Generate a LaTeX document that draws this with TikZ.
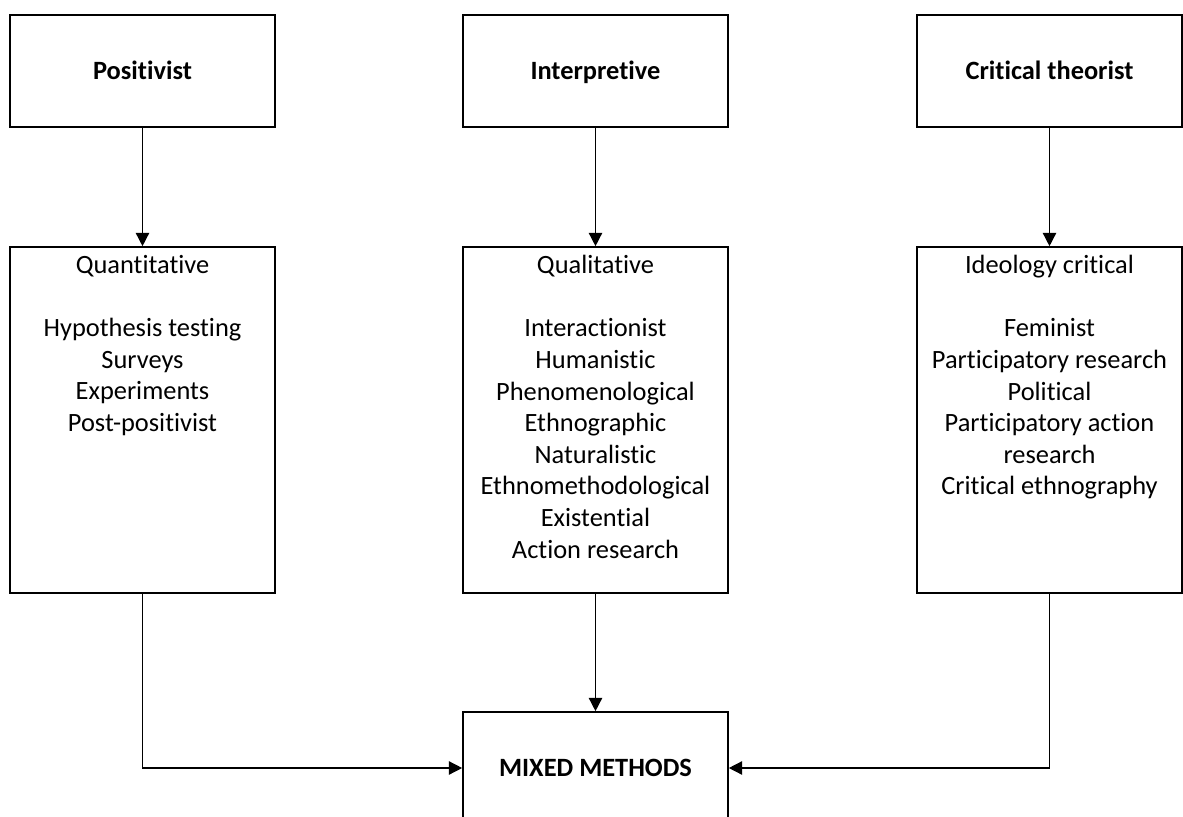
\documentclass[tikz,border=0pt]{standalone}
\usepackage{fontspec}
\setmainfont{Carlito}[Ligatures={NoCommon}]
\usetikzlibrary{arrows.meta}
\begin{document}
\begin{tikzpicture}[x=0.75pt,y=-0.75pt,
  box/.style={draw, line width=1.2pt, minimum width=198.75pt, inner sep=0pt},
  head/.style={box, minimum height=84pt, text height=12.8pt, text depth=0pt,
    font=\bfseries\fontsize{19.8}{23.7}\selectfont},
  tall/.style={box, minimum height=259.5pt},
  body/.style={align=center, font=\fontsize{19.8}{23.7}\selectfont, inner sep=0pt, anchor=north},
  link/.style={line width=1.1pt, -{Triangle[width=10pt,length=10pt]}}]
\clip (0,0) rectangle (1183,817);
\fill[white] (0,0) rectangle (1183,817);

% paradigms
\node[head] (pos)  at (142.5,71)  {Positivist};
\node[head] (int)  at (595.5,71)  {Interpretive};
\node[head] (crit) at (1049.5,71) {Critical theorist};

% methodologies
\node[tall] (quant) at (142.5,420)  {};
\node[tall] (qual)  at (595.5,420)  {};
\node[tall] (ideo)  at (1049.5,420) {};

\node[body] (quantT) at (142.5,255) {Quantitative\\[23.7pt]Hypothesis testing\\Surveys\\Experiments\\Post-positivist};
\node[body] (qualT) at (595.5,255) {Qualitative\\[23.7pt]Interactionist\\Humanistic\\Phenomenological\\Ethnographic\\Naturalistic\\Ethnomethodological\\Existential\\Action research};
\node[body] (ideoT) at (1049.5,255) {Ideology critical\\[23.7pt]Feminist\\Participatory research\\Political\\Participatory action\\research\\Critical ethnography};

% combined approach
\node[head] (mixed) at (595.5,768) {MIXED METHODS};

% connectors
\draw[link] (pos) -- (quant);
\draw[link] (int) -- (qual);
\draw[link] (crit) -- (ideo);
\draw[link] (qual) -- (mixed);
\draw[link] (quant.south) |- (mixed.west);
\draw[link] (ideo.south) |- (mixed.east);
\end{tikzpicture}
\end{document}
